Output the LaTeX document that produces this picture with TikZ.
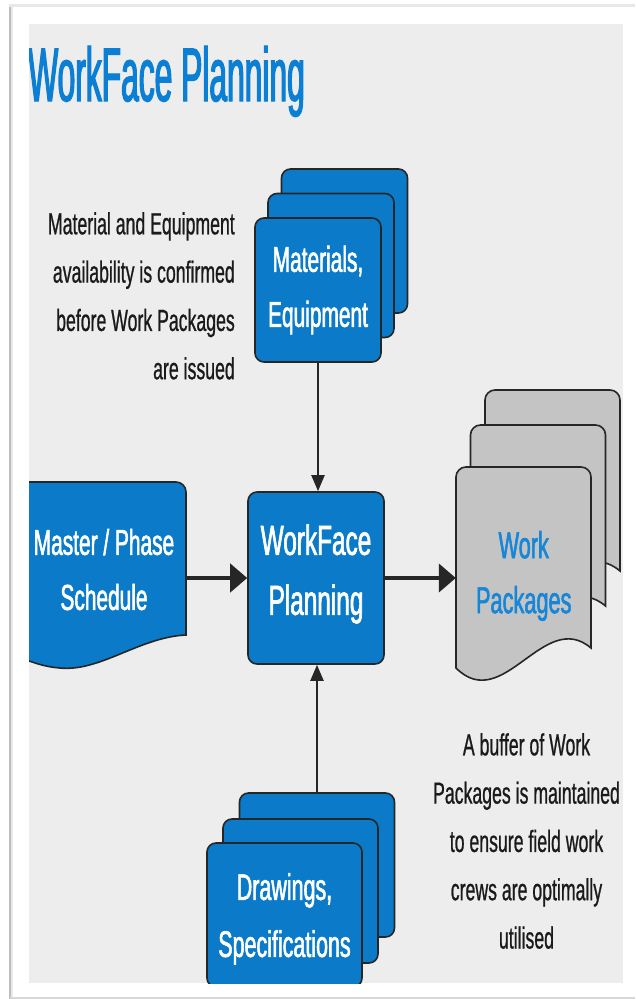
\documentclass[tikz,border=0pt]{standalone}
\usepackage{fontspec}
\setmainfont{Liberation Sans}
\newfontfamily\ttlfont[FakeStretch=0.418,FakeBold=1.6]{Liberation Sans}
\newfontfamily\cnd[FakeStretch=0.58,FakeBold=0.7]{Liberation Sans}
\newfontfamily\cndb[FakeStretch=0.58,FakeBold=1.5]{Liberation Sans}
\usetikzlibrary{arrows.meta}
\definecolor{panel}{HTML}{EDEDED}
\definecolor{wfblue}{HTML}{0B7BC9}
\definecolor{ttlblue}{HTML}{0A7FD3}
\definecolor{wpblue}{HTML}{1886D6}
\definecolor{docgray}{HTML}{C4C4C4}
\definecolor{edge}{HTML}{262626}
\definecolor{notetext}{HTML}{1A1A1A}
\newcommand\wpdoc[2]{%
  \filldraw[docfill] (#1,#2+201) -- (#1,#2+10)
    arc[start angle=180,end angle=270,radius=10] -- (#1+125,#2)
    arc[start angle=270,end angle=360,radius=10] -- (#1+135,#2+181)
    .. controls (#1+87.75,#2+141) and (#1+47.25,#2+248) .. (#1,#2+201) -- cycle;}
\begin{document}
\begin{tikzpicture}[x=1pt,y=-1pt,
  bluebox/.style={draw=edge, line width=1.6pt, fill=wfblue, rounded corners=9pt,
    inner sep=0pt, text=white, align=center},
  docfill/.style={draw=edge, line width=1.6pt, fill=docgray},
  thinarrow/.style={draw=edge, line width=2pt, -{Triangle[length=16pt,width=13pt]}},
  thickarrow/.style={draw=edge, line width=4.5pt, -{Triangle[length=17pt,width=28pt]}},
  note/.style={inner sep=0pt, text=notetext, font=\cnd\fontsize{30.5}{48.3}\selectfont},
]
\useasboundingbox (0,0) rectangle (635,999);
\fill[white] (0,0) rectangle (635,999);
% frame shadow lines
\draw[line width=3pt, black!9] (9,5) -- (635,5);
\draw[line width=2pt, black!26] (10,7) -- (10,999);
\draw[line width=2pt, black!9] (12,7) -- (12,999);
\draw[line width=2pt, black!16] (10,998) -- (635,998);
% panel
\fill[panel] (29,24) rectangle (623,983);

\begin{scope}
\clip (29,24) rectangle (623,983);

% title
\node[anchor=base west, inner sep=0pt, text=ttlblue,
  font=\ttlfont\fontsize{76}{80}\selectfont] (title) at (28,101) {WorkFace Planning};

% annotations
\node[note, anchor=north east, align=right] (n1) at (235,212)
  {Material and Equipment\\availability is confirmed\\before Work Packages\\are issued};
\node[note, anchor=north, align=center] (n2) at (526.5,733)
  {A buffer of Work\\Packages is maintained\\to ensure field work\\crews are optimally\\utilised};

% Materials stack
\node[bluebox, minimum width=126pt, minimum height=144pt] (mat3) at (344.5,241) {};
\node[bluebox, minimum width=126pt, minimum height=144pt] (mat2) at (331,265.5) {};
\node[bluebox, minimum width=126pt, minimum height=144pt,
  font=\cndb\fontsize{36}{55}\selectfont] (mat) at (318,290) {Materials,\\Equipment};

% Master / Phase schedule (document shape)
\filldraw[draw=edge, line width=1.6pt, fill=wfblue] (15,482) -- (176,482)
  arc[start angle=270,end angle=360,radius=10] -- (186,635)
  .. controls (140,637) and (100,672) .. (60,668)
  .. controls (45,667) and (30,662) .. (15,655) -- cycle;
\node[inner sep=0pt, text=white, align=center, minimum width=164pt,
  font=\cndb\fontsize{36}{55}\selectfont] (mst) at (104,569.5) {Master / Phase\\Schedule};

% WorkFace Planning
\node[bluebox, minimum width=136pt, minimum height=172pt, text depth=16.8pt,
  font=\cndb\fontsize{42}{60}\selectfont] (wfp) at (316,578) {WorkFace\\Planning};

% Work Packages stack
\wpdoc{485}{390}
\wpdoc{470.5}{425}
\wpdoc{456}{467}
\node[inner sep=0pt, text=wpblue, align=center, minimum width=135.5pt,
  font=\cndb\fontsize{37.5}{55}\selectfont] (wp) at (523.75,576) {Work\\Packages};

% Drawings stack
\node[bluebox, minimum width=155pt, minimum height=144pt] (drw3) at (317,865) {};
\node[bluebox, minimum width=155pt, minimum height=144pt] (drw2) at (300.5,891) {};
\node[bluebox, minimum width=155pt, minimum height=144pt, text depth=0pt,
  font=\cndb\fontsize{37}{57}\selectfont] (drw) at (284.5,915) {Drawings,\\Specifications};

% connectors
\draw[thinarrow] (mat.south) -- (mat.south |- wfp.north);
\draw[thinarrow] (drw3.north) -- (drw3.north |- wfp.south);
\draw[thickarrow] (mst.east |- wfp.west) -- (wfp.west);
\draw[thickarrow] (wfp.east) -- (wp.west |- wfp.east);
\end{scope}
\end{tikzpicture}
\end{document}
